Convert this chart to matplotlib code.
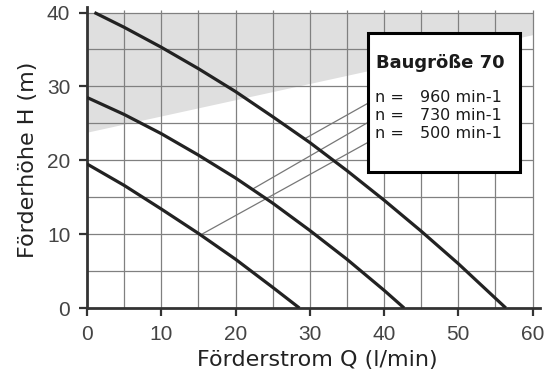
import numpy as np
import matplotlib
matplotlib.use("Agg")
import matplotlib.pyplot as plt
from matplotlib.patches import Rectangle

plt.rcParams["font.family"] = ["Liberation Sans", "DejaVu Sans"]

# Kennlinien (Q in l/min, H in m)
q_960 = [1, 5, 10, 15, 20, 25, 30, 35, 40, 45, 50, 56.4]
h_960 = [40, 38.0, 35.3, 32.4, 29.3, 25.9, 22.4, 18.6, 14.6, 10.4, 6.0, 0]

q_730 = [0, 5, 10, 15, 20, 25, 30, 35, 40, 42.7]
h_730 = [28.5, 26.2, 23.6, 20.7, 17.6, 14.2, 10.5, 6.6, 2.4, 0]

q_500 = [0, 5, 10, 15, 20, 25, 28.6]
h_500 = [19.5, 16.6, 13.4, 10.1, 6.6, 2.8, 0]

# untere Grenze des grauen Bereichs
q_grenze = [0, 60]
h_grenze = [23.8, 37.0]

# Hinweislinien: Start auf der Kurve -> Ende am Kasten
leader_start = [(29.3, 22.9), (22.3, 16.1), (15.3, 9.9)]
leader_end = [(37.8, 27.7), (37.8, 25.1), (37.8, 22.4)]

drehzahlen = ["960", "730", "500"]
titel = "Baugröße 70"

fig = plt.figure(figsize=(5.52, 3.80), dpi=100)
ax = fig.add_axes([87 / 552, 1 - 308 / 380, 453 / 552, 301.4 / 380])
ax.set_xlim(0, 61)
ax.set_ylim(0, 40.8)

# grauer Bereich
ax.fill_between(q_grenze, h_grenze, 40, color="#dfdfdf", lw=0, zorder=0)

# Gitter
grid_c = "#808080"
ax.hlines(np.arange(5, 41, 5), 0, 60, color=grid_c, lw=0.9, zorder=1)
ax.vlines(np.arange(5, 61, 5), 0, 40.4, color=grid_c, lw=0.9, zorder=1)

# Hinweislinien
for (x0, y0), (x1, y1) in zip(leader_start, leader_end):
    ax.plot([x0, x1], [y0, y1], color="#777777", lw=0.9, zorder=2)

# Kennlinien
for q, h in [(q_960, h_960), (q_730, h_730), (q_500, h_500)]:
    ax.plot(q, h, color="#222222", lw=2.3, solid_capstyle="butt",
            solid_joinstyle="round", zorder=3)

# Kasten
ax.add_patch(Rectangle((37.8, 18.4), 20.5, 18.8, facecolor="white",
                       edgecolor="black", lw=2.2, zorder=4))
ax.text(38.9, 33.2, titel, fontsize=13, fontweight="bold",
        family="DejaVu Sans", color="#1a1a1a", va="center", ha="left", zorder=5)
for i, n in enumerate(drehzahlen):
    y = 28.5 - i * 2.45
    ax.text(38.8, y, "n =", fontsize=11.5, family="DejaVu Sans",
            color="#1a1a1a", va="center", ha="left", zorder=5)
    ax.text(44.8, y, f"{n} min-1", fontsize=11.5, family="DejaVu Sans",
            color="#1a1a1a", va="center", ha="left", zorder=5)

# Achsen
for s in ["top", "right"]:
    ax.spines[s].set_visible(False)
for s in ["left", "bottom"]:
    ax.spines[s].set_color("#333333")
    ax.spines[s].set_linewidth(2.0)

ax.set_xticks(range(0, 61, 10))
ax.set_yticks(range(0, 41, 10))
ax.tick_params(direction="out", length=6, width=1.6, color="#333333",
               labelsize=15, labelcolor="#444444", pad=6)

ax.set_xlabel("Förderstrom Q (l/min)", fontsize=16, family="DejaVu Sans", color="#222222")
ax.set_ylabel("Förderhöhe H (m)", fontsize=16, family="DejaVu Sans", color="#222222")
ax.xaxis.set_label_coords(0.509, -0.138)
ax.yaxis.set_label_coords(-0.108, 0.491)

fig.savefig("out.png", dpi=100)
